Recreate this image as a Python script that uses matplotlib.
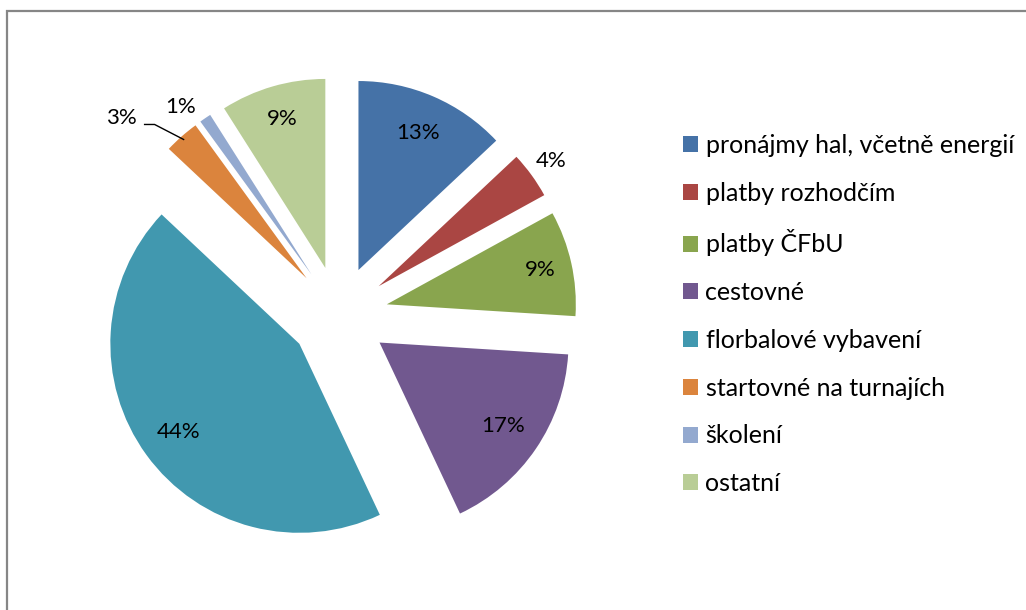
import numpy as np
import matplotlib.pyplot as plt
from matplotlib.patches import Rectangle

# data
kategorie = ['pronájmy hal, včetně energií', 'platby rozhodčím', 'platby ČFbU', 'cestovné',
             'florbalové vybavení', 'startovné na turnajích', 'školení', 'ostatní']
podily = [13, 4, 9, 17, 44, 3, 1, 9]
barvy = ['#4572A7', '#AA4643', '#89A54E', '#71588F', '#4198AF', '#DB843D', '#93A9CF', '#B9CD96']

# vzdalenost popisku (nasobek polomeru), None = popisek venku s posunem od okraje
vzdal_popisku = [0.79, 1.13, 0.83, 0.79, 0.79, None, None, 0.82]
# posun venkovnich popisku od okraje vysece (px)
posun_venku = {5: (-60, 18), 6: (-25, 11)}

plt.rcParams['font.family'] = ['Lato', 'DejaVu Sans']

fig = plt.figure(figsize=(10.26, 6.10), dpi=100)
ax = fig.add_axes([0, 0, 1, 1])

r = 189
wedges, _ = ax.pie(podily, colors=barvy, startangle=90, counterclock=False,
                   explode=[49] * len(podily), radius=r, center=(339, 295),
                   wedgeprops=dict(linewidth=0))

ax.set_xlim(0, 1026)
ax.set_ylim(0, 610)
ax.set_aspect('equal')
ax.axis('off')

# ramecek grafu
ax.add_patch(Rectangle((7, -20), 1100, 619, fill=False, edgecolor='#868686', lw=1.6))

for i, (w, p, d) in enumerate(zip(wedges, podily, vzdal_popisku)):
    th = np.deg2rad((w.theta1 + w.theta2) / 2)
    cx, cy = w.center
    if d is not None:
        tx = cx + d * r * np.cos(th)
        ty = cy + d * r * np.sin(th)
    else:
        ex = cx + r * np.cos(th)
        ey = cy + r * np.sin(th)
        tx, ty = ex + posun_venku[i][0], ey + posun_venku[i][1]
    ax.text(tx, ty, f'{p}%', ha='center', va='center', fontsize=16, color='#000000')
    if i == 5:
        # vodici cara
        ax.plot([tx + 23, tx + 33, ex + 2], [ty - 6, ty - 6, ey - 3], color='black', lw=1)

ax.legend(wedges, kategorie, loc='upper left', bbox_to_anchor=(683 / 1026, 1 - 134 / 610),
          frameon=False, fontsize=18, handlelength=0.6, handleheight=0.6,
          handletextpad=0.3, labelspacing=0.99, borderpad=0, borderaxespad=0)

fig.savefig('out.png', dpi=100)
